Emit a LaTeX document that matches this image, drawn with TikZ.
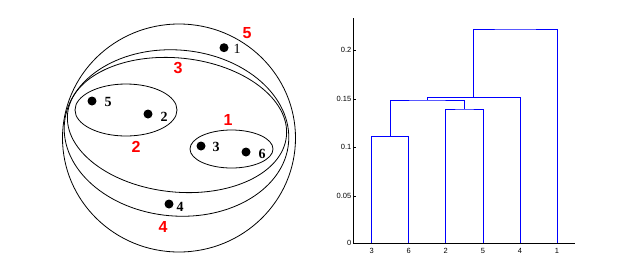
\documentclass[tikz,border=0pt]{standalone}
\usepackage{fontspec}
\setmainfont{Liberation Serif}
\setsansfont{Liberation Sans}
\begin{document}
\begin{tikzpicture}[x=1pt,y=-1pt,
  curve/.style={draw=black,line width=0.8pt},
  pt/.style={circle,fill=black,inner sep=0pt,minimum size=9pt},
  ptlab/.style={font=\fontsize{14}{14}\selectfont\bfseries,inner sep=0pt,anchor=center},
  clab/.style={font=\sffamily\bfseries\fontsize{16}{16}\selectfont,text=red,inner sep=0pt},
  dend/.style={draw=blue,line width=0.8pt},
  axl/.style={font=\sffamily\fontsize{7.5}{7.5}\selectfont,inner sep=0pt}]
\useasboundingbox (0,0) rectangle (627,255);
% ---- left: nested clusters ----
\draw[curve] (179,138) ellipse [x radius=116.5, y radius=114];
\draw[curve,rotate around={-5:(176.5,133)}] (176.5,133) ellipse [x radius=112.5, y radius=83];
\draw[curve,rotate around={-6:(177,125)}] (177,125) ellipse [x radius=110, y radius=67];
\draw[curve] (126,110) ellipse [x radius=51, y radius=26];
\draw[curve] (231.5,149) ellipse [x radius=41.5, y radius=19];
\node[pt] (p1) at (224,47.7) {};
\node[pt] (p5) at (92,101) {};
\node[pt] (p2) at (148,114) {};
\node[pt] (p3) at (201,146) {};
\node[pt] (p6) at (246,152) {};
\node[pt] (p4) at (169,204) {};
\node[ptlab,font=\fontsize{14}{14}\selectfont] (t1) at (237,49) {1};
\node[ptlab] (t5) at (108,102) {5};
\node[ptlab] (t2) at (164,117) {2};
\node[ptlab] (t3) at (216,147) {3};
\node[ptlab] (t6) at (262,154) {6};
\node[ptlab] (t4) at (180,207) {4};
\node[clab] (c5) at (247,33) {5};
\node[clab] (c3) at (178,68) {3};
\node[clab] (c1) at (228,120) {1};
\node[clab] (c2) at (136,147) {2};
\node[clab] (c4) at (163,227) {4};
% ---- right: dendrogram ----
\coordinate (ytop) at (353.3,18);
\coordinate (orig) at (353.3,243);
\coordinate (xend) at (575,243);
\foreach \v/\y in {0/243,0.05/195.7,0.1/146.7,0.15/98.7,0.2/50.3}{
  \draw[line width=0.4pt] (353.3,\y) -- (356,\y);
  \node[axl,anchor=east] at (351.5,\y) {\v};
}
\coordinate (L3) at (371.7,243);
\coordinate (L6) at (408.7,243);
\coordinate (L2) at (445.7,243);
\coordinate (L5) at (483,243);
\coordinate (L4) at (520,243);
\coordinate (L1) at (557,243);
\foreach \n in {3,6,2,5,4,1}{
  \node[axl] (lab\n) at ([yshift=-8pt]L\n) {\n};
}
\coordinate (m36) at (390.2,136.7);
\coordinate (m25) at (464.35,109);
\coordinate (mA) at (427.3,100);
\coordinate (mB) at (473.6,97.3);
\coordinate (mC) at (515.3,29);
\draw[dend] (L3) |- (m36) -| (L6);
\draw[dend] (L2) |- (m25) -| (L5);
\draw[dend] (m36) |- (mA) -| (m25);
\draw[dend] (mA) |- (mB) -| (L4);
\draw[dend] (mB) |- (mC) -| (L1);
\draw[line width=0.7pt] (ytop) -- (orig) -- (xend);
\end{tikzpicture}
\end{document}
